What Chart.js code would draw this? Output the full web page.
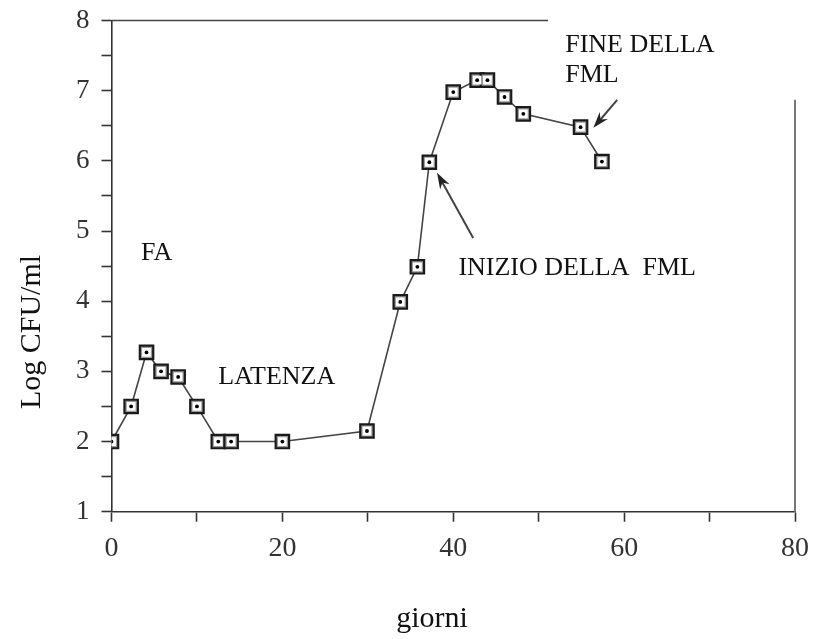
<!DOCTYPE html>
<html>
<head>
<meta charset="utf-8">
<script src="https://cdn.jsdelivr.net/npm/chart.js@4.4.1/dist/chart.umd.min.js"></script>
<style>
  html, body { margin: 0; padding: 0; background: #fff; }
  #box { width: 815px; height: 639px; }
</style>
</head>
<body>
<div id="box"><canvas id="grafico"></canvas></div>
<script>
// giorni di fermentazione e conta batterica (Log CFU/ml)
const giorni = [0, 2.3, 4.1, 5.8, 7.8, 10, 12.5, 14, 20, 29.9, 33.8, 35.8, 37.2, 40, 42.8, 44, 46, 48.2, 54.9, 57.4];
const logCFU = [2.0, 2.5, 3.27, 3.0, 2.92, 2.5, 2.0, 2.0, 2.0, 2.15, 3.99, 4.49, 5.98, 6.98, 7.15, 7.15, 6.91, 6.67, 6.48, 5.99];

// etichette degli assi
const xTickLabels = [0, 20, 40, 60, 80];
const yTickLabels = [1, 2, 3, 4, 5, 6, 7, 8];

// testi sul grafico (posizione in unità dei dati)
const testi = [
    { testo: 'FA', x: 3.45, y: 4.69 },
    { testo: 'LATENZA', x: 12.5, y: 2.92 },
    { testo: 'INIZIO DELLA  FML', x: 40.6, y: 4.47 },
    { testo: 'FINE DELLA', x: 53.1, y: 7.65 },
    { testo: 'FML', x: 53.1, y: 7.22 }
];

// frecce: coda -> punta
const frecce = [
    { da: [42.33, 4.90], a: [38.1, 5.83] },
    { da: [59.19, 6.87], a: [56.4, 6.47] }
];

const serif = "'Liberation Serif', 'DejaVu Serif', serif";

// disegna testi, frecce, cornice parziale e titoli degli assi
const decorazioni = {
    id: 'decorazioni',
    afterDraw(chart) {
        const ctx = chart.ctx;
        const sx = chart.scales.x;
        const sy = chart.scales.y;
        ctx.save();

        // cornice (solo pezzi come nella figura)
        ctx.strokeStyle = '#444';
        ctx.lineWidth = 1.6;
        ctx.beginPath();
        ctx.moveTo(sx.getPixelForValue(0), sy.getPixelForValue(8));
        ctx.lineTo(sx.getPixelForValue(51.1), sy.getPixelForValue(8));
        ctx.stroke();
        ctx.strokeStyle = '#777';
        ctx.lineWidth = 2;
        ctx.beginPath();
        ctx.moveTo(sx.getPixelForValue(80), sy.getPixelForValue(1));
        ctx.lineTo(sx.getPixelForValue(80), sy.getPixelForValue(6.87));
        ctx.stroke();

        // testi
        ctx.fillStyle = '#111';
        ctx.font = '26px ' + serif;
        ctx.textAlign = 'left';
        ctx.textBaseline = 'middle';
        testi.forEach(t => {
            ctx.fillText(t.testo, sx.getPixelForValue(t.x), sy.getPixelForValue(t.y));
        });

        // frecce
        frecce.forEach(f => {
            const x0 = sx.getPixelForValue(f.da[0]), y0 = sy.getPixelForValue(f.da[1]);
            const x1 = sx.getPixelForValue(f.a[0]), y1 = sy.getPixelForValue(f.a[1]);
            const ang = Math.atan2(y1 - y0, x1 - x0);
            ctx.strokeStyle = '#444';
            ctx.lineWidth = 2;
            ctx.beginPath();
            ctx.moveTo(x0, y0);
            ctx.lineTo(x1 - 10 * Math.cos(ang), y1 - 10 * Math.sin(ang));
            ctx.stroke();
            ctx.fillStyle = '#222';
            ctx.beginPath();
            ctx.moveTo(x1, y1);
            ctx.lineTo(x1 - 17 * Math.cos(ang - 0.32), y1 - 17 * Math.sin(ang - 0.32));
            ctx.lineTo(x1 - 11 * Math.cos(ang), y1 - 11 * Math.sin(ang));
            ctx.lineTo(x1 - 17 * Math.cos(ang + 0.32), y1 - 17 * Math.sin(ang + 0.32));
            ctx.closePath();
            ctx.fill();
        });

        // titoli degli assi
        ctx.fillStyle = '#111';
        ctx.font = '30px ' + serif;
        ctx.textAlign = 'center';
        ctx.textBaseline = 'alphabetic';
        ctx.fillText('giorni', 432, 627);
        ctx.translate(40, 332);
        ctx.rotate(-Math.PI / 2);
        ctx.fillText('Log CFU/ml', 0, 0);
        ctx.restore();
    }
};

function inicializzaGrafico() {
    const ctx = document.getElementById('grafico').getContext('2d');
    const punti = giorni.map((g, i) => ({ x: g, y: logCFU[i] }));

    new Chart(ctx, {
        type: 'scatter',
        data: {
            datasets: [
                {
                    // linea + quadrato esterno
                    data: punti,
                    order: 3,
                    showLine: true,
                    borderColor: '#444',
                    borderWidth: 1.6,
                    pointStyle: 'rect',
                    pointRadius: 9.5,
                    pointBorderColor: '#1a1a1a',
                    pointBorderWidth: 2.2,
                    pointBackgroundColor: '#9a9a9a'
                },
                {
                    // interno bianco
                    data: punti,
                    order: 2,
                    showLine: false,
                    pointStyle: 'rect',
                    pointRadius: 6.2,
                    pointBorderWidth: 0,
                    pointBackgroundColor: '#fff'
                },
                {
                    // puntino centrale
                    data: punti,
                    order: 1,
                    showLine: false,
                    pointStyle: 'circle',
                    pointRadius: 1.9,
                    pointBorderWidth: 0,
                    pointBackgroundColor: '#000'
                }
            ]
        },
        options: {
            responsive: true,
            maintainAspectRatio: false,
            animation: false,
            layout: { padding: { top: 20.5, right: 20, left: 0, bottom: 0 } },
            plugins: {
                legend: { display: false },
                tooltip: { enabled: false }
            },
            scales: {
                x: {
                    type: 'linear',
                    min: 0,
                    max: 80,
                    afterFit: s => {
                        s.height = 127.3;
                        s.paddingLeft = 0;
                        s.paddingRight = 0;
                    },
                    border: { color: '#333', width: 1.6 },
                    grid: { drawOnChartArea: false, tickLength: 10, color: '#333', tickWidth: 1.6 },
                    ticks: {
                        stepSize: 10,
                        autoSkip: false,
                        maxRotation: 0,
                        padding: 10,
                        color: '#333',
                        font: { family: serif, size: 28 },
                        callback: v => xTickLabels.includes(v) ? String(v) : ''
                    }
                },
                y: {
                    min: 1,
                    max: 8,
                    afterFit: s => {
                        s.width = 111.5;
                        s.paddingTop = 0;
                        s.paddingBottom = 0;
                    },
                    border: { color: '#333', width: 1.6 },
                    grid: { drawOnChartArea: false, tickLength: 10, color: '#333', tickWidth: 1.6 },
                    ticks: {
                        stepSize: 0.5,
                        autoSkip: false,
                        padding: 12,
                        color: '#333',
                        font: { family: serif, size: 27 },
                        callback: v => yTickLabels.includes(v) ? String(v) : ''
                    }
                }
            }
        },
        plugins: [decorazioni]
    });
}

document.addEventListener('DOMContentLoaded', inicializzaGrafico);
</script>
</body>
</html>
